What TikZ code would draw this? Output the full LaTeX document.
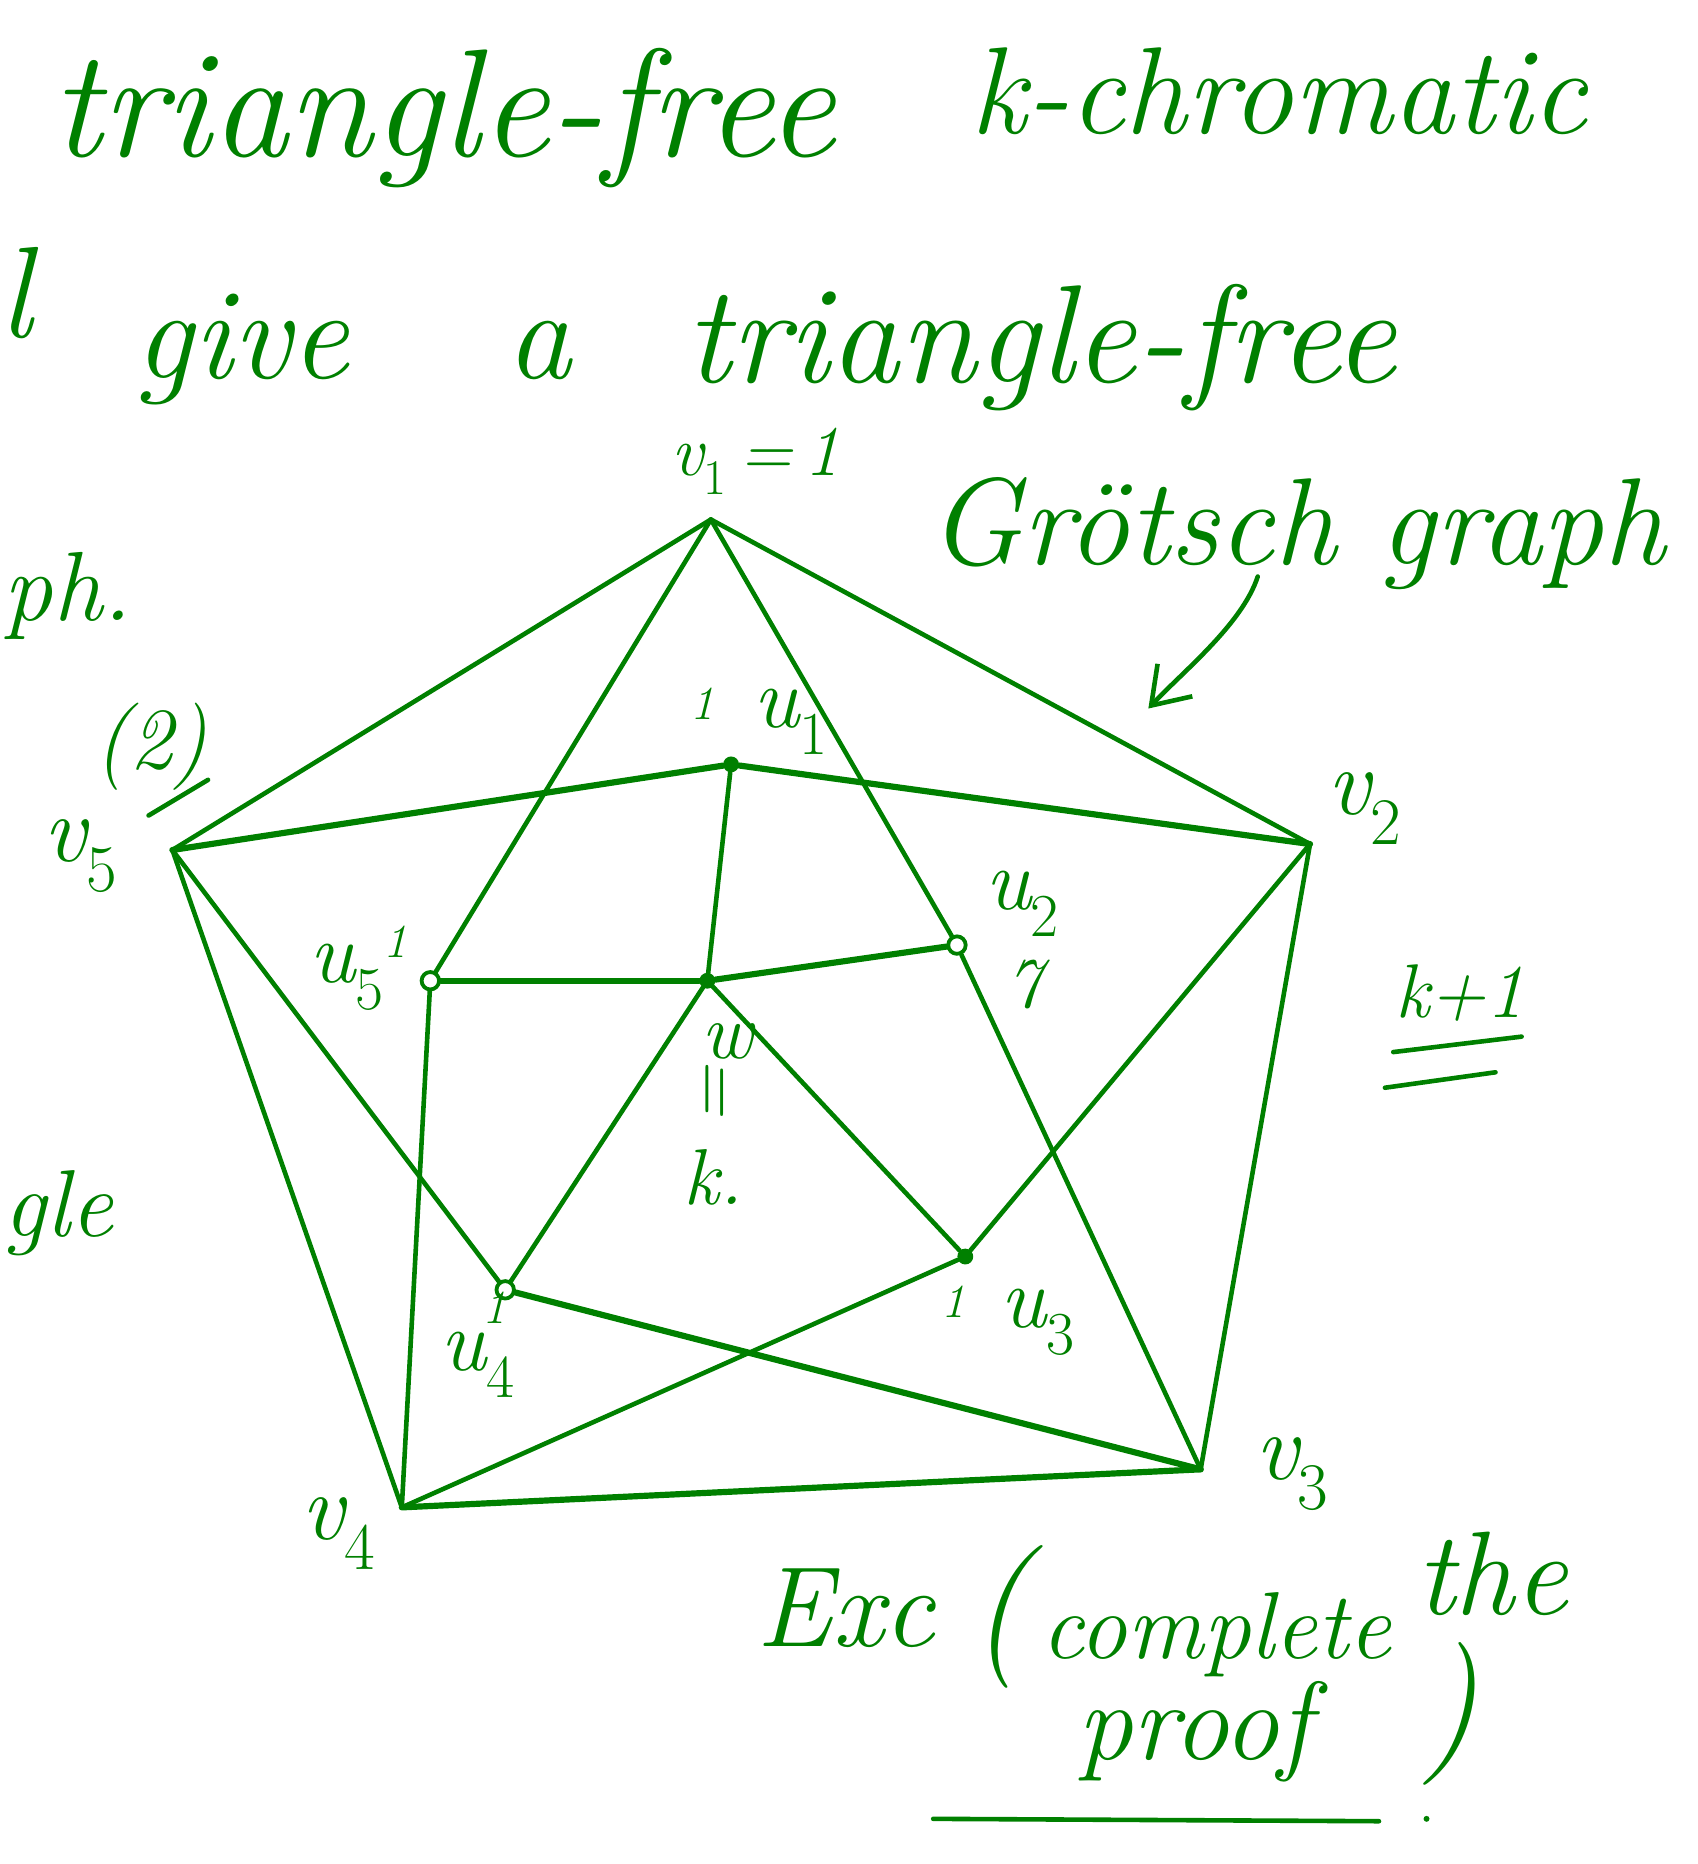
\documentclass[tikz,border=0pt]{standalone}
\usepackage{tikz}
\usetikzlibrary{arrows.meta}
\definecolor{ink}{RGB}{0,128,0}
\newcommand{\handsz}[1]{\fontsize{#1}{#1}\selectfont\itshape}
\newcommand{\sub}[1]{\textsubscript{\upshape #1}}
\tikzset{
  hand/.style={text=ink, inner sep=0.75pt},
  edge/.style={draw=ink, line width=2.9pt, line cap=round, line join=round},
  edgeb/.style={edge, line width=3.9pt},
  dot/.style={circle, fill=ink, inner sep=0pt, minimum size=10pt},
  ring/.style={circle, draw=ink, line width=2.4pt, fill=white, inner sep=0pt, minimum size=11pt},
}
\begin{document}
\begin{tikzpicture}[x=0.75pt,y=0.75pt,yscale=-1,xscale=1]
\useasboundingbox (0,0) rectangle (1428,1568);
% heading lines
\node [hand, anchor=base west, font=\handsz{97}] (tri1) at (42,132) {triangle-free};
\node [hand, anchor=base west, font=\handsz{78}] (kchr) at (815,112) {k-chromatic};
\node [hand, anchor=base west, font=\handsz{82}] (ell) at (-2,284) {l};
\node [hand, anchor=base west, font=\handsz{82}] (give) at (112,318) {give};
\node [hand, anchor=base west, font=\handsz{82}] (art) at (425,318) {a};
\node [hand, anchor=base west, font=\handsz{88}] (tri2) at (575,322) {triangle-free};
\node [hand, anchor=base west, font=\handsz{62}] (ph) at (2,522) {ph.};
\node [hand, anchor=base west, font=\handsz{60}] (gle) at (2,1040) {gle};
\node [hand, anchor=base west, font=\handsz{78}] (grot) at (780,475) {Grötsch graph};
% graph
\coordinate (v1) at (598,437);
\coordinate (v2) at (1102,710);
\coordinate (v3) at (1010,1236);
\coordinate (v4) at (338,1268);
\coordinate (v5) at (145,715);
\node [dot] (u1) at (615,643) {};
\node [ring] (u2) at (805,795) {};
\node [dot] (u3) at (812,1057) {};
\node [ring] (u4) at (425,1085) {};
\node [ring] (u5) at (362,825) {};
\node [dot] (w) at (595,825) {};
\draw [edge] (v1) -- (v2);
\draw [edge] (v2) -- (v3);
\draw [edgeb] (v3) -- (v4);
\draw [edge] (v4) -- (v5);
\draw [edge] (v5) -- (v1);
\draw [edgeb] (v5) -- (u1);
\draw [edgeb] (u1) -- (v2);
\draw [edge] (v1) -- (u2);
\draw [edge] (u2) -- (v3);
\draw [edge] (v2) -- (u3);
\draw [edge] (u3) -- (v4);
\draw [edgeb] (v3) -- (u4);
\draw [edge] (u4) -- (v5);
\draw [edge] (v4) -- (u5);
\draw [edge] (u5) -- (v1);
\draw [edge] (w) -- (u1);
\draw [edgeb] (w) -- (u2);
\draw [edge] (w) -- (u3);
\draw [edge] (w) -- (u4);
\draw [edgeb] (w) -- (u5);
% labels
\node [hand, font=\handsz{45}] (lv1) at (636,388) {v\sub{1}\,=\,1};
\node [hand, font=\handsz{60}] (lv2) at (1148,680) {v\sub{2}};
\node [hand, font=\handsz{60}] (lv3) at (1087,1240) {v\sub{3}};
\node [hand, font=\handsz{60}] (lv4) at (285,1290) {v\sub{4}};
\node [hand, font=\handsz{60}] (lv5) at (68,720) {v\sub{5}};
\node [hand, font=\handsz{55}] (two) at (127,628) {(2)};
\draw [edge] (125,686) -- (175,656);
\node [hand, font=\handsz{55}] (lu1) at (665,607) {u\sub{1}};
\node [hand, font=\handsz{30}] (m1) at (591,592) {1};
\node [hand, font=\handsz{55}] (lu2) at (860,760) {u\sub{2}};
\node [hand, font=\handsz{45}] (m2) at (862,828) {7};
\node [hand, font=\handsz{55}] (lu3) at (873,1112) {u\sub{3}};
\node [hand, font=\handsz{30}] (m3) at (802,1095) {1};
\node [hand, font=\handsz{55}] (lu4) at (402,1148) {u\sub{4}};
\node [hand, font=\handsz{30}] (m4) at (416,1100) {1};
\node [hand, font=\handsz{55}] (lu5) at (292,822) {u\sub{5}};
\node [hand, font=\handsz{30}] (m5) at (333,792) {1};
\node [hand, font=\handsz{50}] (lw) at (612,876) {w};
\node [hand, font=\handsz{50}, rotate=90] (leq) at (606,922) {=};
\node [hand, font=\handsz{50}] (lk) at (600,990) {k.};
\node [hand, font=\handsz{48}] (kp1) at (1228,835) {k+1};
\draw [edge] (1172,885) -- (1280,872);
\draw [edge] (1165,915) -- (1258,902);
% arrow to the graph
\coordinate (gtail) at (1058,485);
\coordinate (ghead) at (966,596);
\draw [edge, -{Straight Barb[length=22pt,width=30pt]}] (gtail) .. controls (1045,525) and (995,565) .. (ghead);
% exercise
\node [hand, anchor=base west, font=\handsz{72}] (exc) at (635,1385) {Exc};
\node [hand, font=\handsz{90}] (lpar) at (840,1360) {(};
\node [hand, anchor=base west, font=\handsz{60}] (compl) at (875,1395) {complete};
\node [hand, anchor=base west, font=\handsz{75}] (the) at (1190,1358) {the};
\node [hand, anchor=base west, font=\handsz{70}] (proof) at (905,1480) {proof};
\node [hand, font=\handsz{90}] (rpar) at (1220,1442) {)};
\draw [edge] (785,1530) -- (1160,1532);
\fill [ink] (1200,1530) circle (2.5);
\end{tikzpicture}
\end{document}
